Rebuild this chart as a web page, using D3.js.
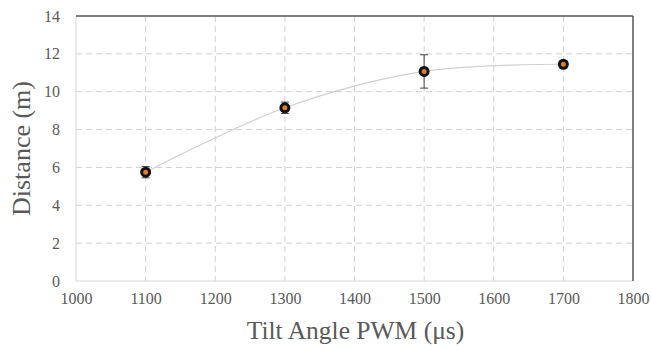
<!DOCTYPE html>
<html><head><meta charset="utf-8">
<script src="https://cdn.jsdelivr.net/npm/d3@7"></script>
<style>body{margin:0;background:#fff}</style>
</head><body>
<svg id="c" width="652" height="351"></svg>
<script>
const pwm = [1100, 1300, 1500, 1700];
const distance = [5.75, 9.15, 11.07, 11.45];
const errors = [0.3, 0.3, 0.88, 0.2];
const xTicks = [1000, 1100, 1200, 1300, 1400, 1500, 1600, 1700, 1800];
const yTicks = [0, 2, 4, 6, 8, 10, 12, 14];

const svg = d3.select("#c");
const L = 76, R = 633, T = 16, B = 281;
const x = d3.scaleLinear().domain([1000, 1800]).range([L, R]);
const y = d3.scaleLinear().domain([0, 14]).range([B, T]);
const font = "'Liberation Serif','Times New Roman',serif";

// grid
svg.append("g").selectAll("line").data(yTicks.filter(d => d > 0 && d < 14)).join("line")
  .attr("x1", L).attr("x2", R).attr("y1", d => y(d)).attr("y2", d => y(d))
  .attr("stroke", "#d0d0d0").attr("stroke-width", 1).attr("stroke-dasharray", "6,4");
svg.append("g").selectAll("line").data(xTicks.filter(d => d > 1000 && d < 1800)).join("line")
  .attr("x1", d => x(d)).attr("x2", d => x(d)).attr("y1", T).attr("y2", B)
  .attr("stroke", "#d0d0d0").attr("stroke-width", 1).attr("stroke-dasharray", "6,4");

// frame
svg.append("line").attr("x1", L).attr("x2", L).attr("y1", T).attr("y2", B).attr("stroke", "#d9d9d9");
svg.append("line").attr("x1", L).attr("x2", R).attr("y1", B).attr("y2", B).attr("stroke", "#d9d9d9");
svg.append("line").attr("x1", L).attr("x2", R).attr("y1", T).attr("y2", T).attr("stroke", "#555").attr("stroke-width", 1.5);
svg.append("line").attr("x1", R).attr("x2", R).attr("y1", T).attr("y2", B).attr("stroke", "#555").attr("stroke-width", 1.5);

// axes tick labels via d3 axes
const xAxis = svg.append("g").attr("transform", `translate(0,${B})`)
  .call(d3.axisBottom(x).tickValues(xTicks).tickSize(0).tickPadding(12).tickFormat(d3.format("d")));
const yAxis = svg.append("g").attr("transform", `translate(${L},0)`)
  .call(d3.axisLeft(y).tickValues(yTicks).tickSize(0).tickPadding(16).tickFormat(d3.format("d")));
[xAxis, yAxis].forEach(a => {
  a.select(".domain").remove();
  a.selectAll("text").attr("font-family", font).attr("font-size", 16).attr("fill", "#595959");
});

// line
const pts = pwm.map((p, i) => [p, distance[i]]);
svg.append("path").datum(pts)
  .attr("d", d3.line().x(d => x(d[0])).y(d => y(d[1])).curve(d3.curveCatmullRom.alpha(0.5)))
  .attr("fill", "none").attr("stroke", "#d0d0d0").attr("stroke-width", 1.2);

// error bars
const eb = svg.append("g").attr("stroke", "#444").attr("stroke-width", 1);
pts.forEach((d, i) => {
  const cx = x(d[0]), y1 = y(d[1] + errors[i]), y2 = y(d[1] - errors[i]);
  eb.append("line").attr("x1", cx).attr("x2", cx).attr("y1", y1).attr("y2", y2);
  eb.append("line").attr("x1", cx - 4).attr("x2", cx + 4).attr("y1", y1).attr("y2", y1);
  eb.append("line").attr("x1", cx - 4).attr("x2", cx + 4).attr("y1", y2).attr("y2", y2);
});

// markers
svg.append("g").selectAll("circle").data(pts).join("circle")
  .attr("cx", d => x(d[0])).attr("cy", d => y(d[1])).attr("r", 4)
  .attr("fill", "#e07b2a").attr("stroke", "#111").attr("stroke-width", 3);

// titles
svg.append("text").attr("x", (L + R) / 2 + 1).attr("y", 339).attr("text-anchor", "middle")
  .attr("font-family", font).attr("font-size", 25.5).attr("fill", "#595959").text("Tilt Angle PWM (μs)");
svg.append("text").attr("transform", `translate(30,${(T + B) / 2}) rotate(-90)`).attr("text-anchor", "middle")
  .attr("font-family", font).attr("font-size", 26).attr("fill", "#595959").text("Distance (m)");
</script>
</body></html>
